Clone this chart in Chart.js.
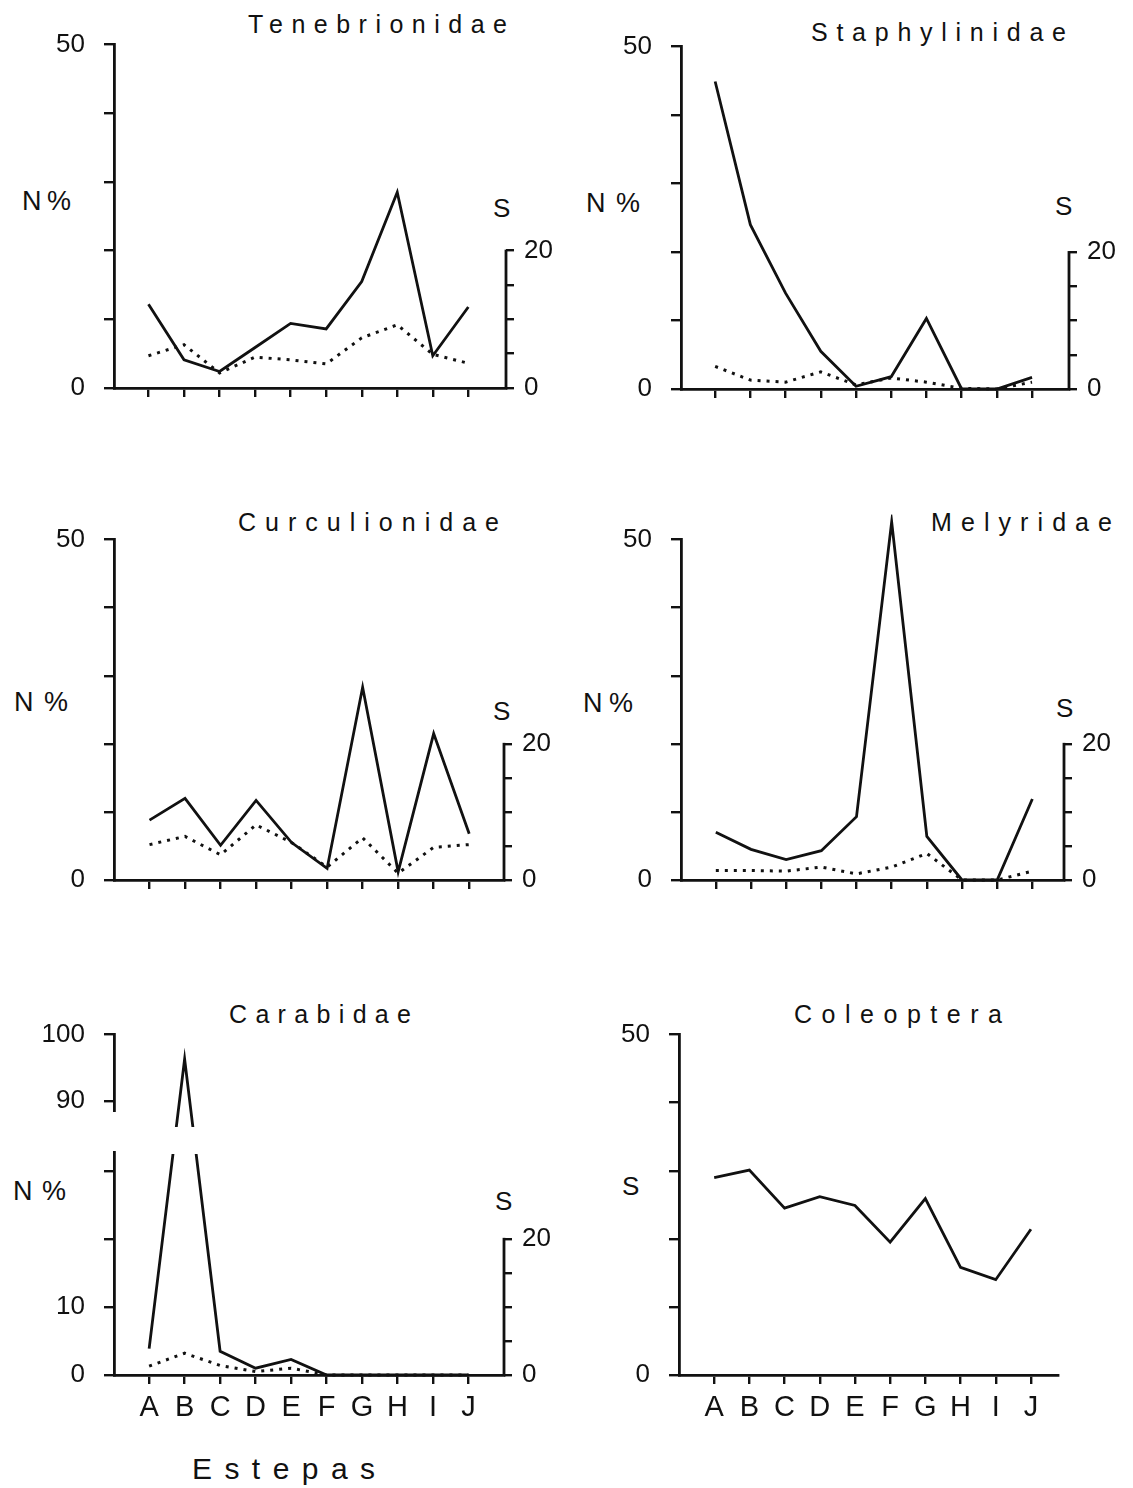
<!DOCTYPE html>
<html lang="es">
<head>
<meta charset="utf-8">
<title>Coleoptera por estepa</title>
<script src="https://cdn.jsdelivr.net/npm/chart.js@4.4.1/dist/chart.umd.min.js"></script>
<style>
  html, body { margin: 0; padding: 0; background: #fff; }
  #page { position: relative; width: 1133px; height: 1488px; overflow: hidden;
          font-family: "Liberation Sans", Arial, sans-serif; color: #111; }
  #page canvas { position: absolute; }
  .lbl { position: absolute; line-height: 1; white-space: nowrap; }
  .title { font-size: 25px; }
  .np { font-size: 27px; }
  .s { font-size: 26px; }
  .xt { font-size: 30px; }
</style>
</head>
<body>
<div id="page">
  <div class="lbl title" data-w="259" style="left:248px;top:12px">Tenebrionidae</div>
  <div class="lbl title" data-w="255" style="left:811px;top:20px">Staphylinidae</div>
  <div class="lbl title" data-w="261" style="left:238px;top:510px">Curculionidae</div>
  <div class="lbl title" data-w="181" style="left:931px;top:510px">Melyridae</div>
  <div class="lbl title" data-w="182" style="left:229px;top:1002px">Carabidae</div>
  <div class="lbl title" data-w="208" style="left:794px;top:1002px">Coleoptera</div>

  <div class="lbl np" data-w="49" style="left:22px;top:188px">N %</div>
  <div class="lbl np" data-w="54" style="left:586px;top:190px">N %</div>
  <div class="lbl np" data-w="54" style="left:14px;top:689px">N %</div>
  <div class="lbl np" data-w="50" style="left:583px;top:690px">N %</div>
  <div class="lbl np" data-w="53" style="left:13px;top:1178px">N %</div>

  <div class="lbl s" style="left:493px;top:195px">S</div>
  <div class="lbl s" style="left:1055px;top:193px">S</div>
  <div class="lbl s" style="left:493px;top:698px">S</div>
  <div class="lbl s" style="left:1056px;top:695px">S</div>
  <div class="lbl s" style="left:495px;top:1188px">S</div>
  <div class="lbl s" style="left:622px;top:1173px">S</div>

  <div class="lbl xt" data-w="183" style="left:192px;top:1454px">Estepas</div>
</div>

<script>
const ink = '#111';

const stations = ['A', 'B', 'C', 'D', 'E', 'F', 'G', 'H', 'I', 'J'];

// y ticks (N % on the left, S on the right)
const nTicks = [0, 10, 20, 30, 40, 50];
const nLabelled = [0, 50];
const sTicks = [0, 5, 10, 15, 20];
const sLabelled = [0, 20];
const caraTicks = [0, 10, 20, 30, 90, 100];
const caraLabelled = [0, 10, 90, 100];

// N % (solid) and S (dotted) per estepa
const tenebN = [12.2, 4.1, 2.4, 5.9, 9.4, 8.6, 15.5, 28.5, 4.7, 11.8];
const tenebS = [4.7, 6.3, 2.2, 4.5, 4.1, 3.5, 7.3, 9.2, 4.9, 3.6];

const staphN = [44.9, 24.0, 14.0, 5.5, 0.4, 1.8, 10.3, 0, 0, 1.7];
const staphS = [3.3, 1.3, 1.0, 2.5, 0.6, 1.6, 1.0, 0.1, 0, 1.0];

const curcN = [8.8, 12.0, 5.1, 11.7, 5.5, 1.7, 28.3, 1.2, 21.5, 6.8];
const curcS = [5.2, 6.4, 3.7, 8.1, 5.5, 1.9, 6.2, 1.0, 4.8, 5.2];

const melyN = [7.0, 4.5, 3.0, 4.3, 9.3, 52.6, 6.4, 0, 0, 11.9];
const melyS = [1.4, 1.4, 1.3, 1.9, 0.9, 1.9, 3.9, 0, 0, 1.3];

const caraN = [3.9, 96.3, 3.5, 1.0, 2.3, 0, 0, 0, 0, 0];
const caraS = [1.3, 3.2, 1.4, 0.5, 1.0, 0, 0, 0, 0, 0];

const coleoS = [29.0, 30.1, 24.5, 26.2, 24.9, 19.5, 25.9, 15.8, 14.0, 21.4];

Chart.defaults.font.family = '"Liberation Sans", Arial, sans-serif';
Chart.defaults.color = ink;

// linear scale with a cut between brk.low and brk.high (Carabidae)
class BrokenScale extends Chart.LinearScale {
  getPixelForValue(v) {
    const b = this.options.brk;
    let f;
    if (v <= b.low) f = v / b.low * b.lowAt;
    else if (v < b.high) f = b.lowAt + (v - b.low) / (b.high - b.low) * (b.highAt - b.lowAt);
    else f = b.highAt + (v - b.high) / (this.max - b.high) * (1 - b.highAt);
    return this.bottom - f * (this.bottom - this.top);
  }
  getValueForPixel(px) {
    const b = this.options.brk;
    const f = (this.bottom - px) / (this.bottom - this.top);
    if (f <= b.lowAt) return f / b.lowAt * b.low;
    if (f < b.highAt) return b.low + (f - b.lowAt) / (b.highAt - b.lowAt) * (b.high - b.low);
    return b.high + (f - b.highAt) / (1 - b.highAt) * (this.max - b.high);
  }
}
BrokenScale.id = 'broken';
BrokenScale.defaults = Chart.LinearScale.defaults;
Chart.register(BrokenScale);

const extras = {
  id: 'extras',
  afterDatasetsDraw(chart) {
    const y = chart.scales.y, a = chart.chartArea, b = y.options.brk;
    if (!b) return;
    const hi = y.getPixelForValue(b.high), lo = y.getPixelForValue(b.low);
    chart.ctx.clearRect(a.left + 2, hi + 15, a.right - a.left - 4, lo - hi - 12);
    chart.ctx.clearRect(a.left - 14, hi, 16, lo - hi);
  },
  afterDraw(chart) {
    const s = chart.scales.yS;
    if (!s) return;
    const ctx = chart.ctx, x = chart.chartArea.right;
    ctx.save();
    ctx.strokeStyle = ink;
    ctx.lineWidth = 2.8;
    ctx.beginPath();
    ctx.moveTo(x, s.getPixelForValue(0) + 1);
    ctx.lineTo(x, s.getPixelForValue(sTicks[sTicks.length - 1]) - 1);
    ctx.stroke();
    ctx.restore();
  }
};

const page = document.getElementById('page');

function drawPanel(p) {
  const yMax = p.yMax || 50;
  const yTicks = p.yTicks || nTicks;
  const yLabelled = p.yLabelled || nLabelled;

  const cv = document.createElement('canvas');
  cv.width = p.axR - p.axL + 160;
  cv.height = p.bot - p.top + 75;
  cv.style.left = (p.axL - 95) + 'px';
  cv.style.top = (p.top - 25) + 'px';
  page.appendChild(cv);

  const clip = { left: 5, top: 25, right: 5, bottom: 5 };
  const datasets = [{
    data: p.n.map((v, i) => ({ x: i, y: v })),
    borderColor: ink, borderWidth: 2.8, yAxisID: 'y', clip
  }];
  if (p.s) {
    datasets.push({
      data: p.s.map((v, i) => ({ x: i, y: v })),
      borderColor: ink, borderWidth: 3, borderDash: [3, 6], yAxisID: 'yS', clip
    });
  }

  const scales = {
    x: {
      type: 'linear', min: p.xMin, max: p.xMax, bounds: 'data',
      afterBuildTicks: s => { s.ticks = stations.map((_, i) => ({ value: i })); },
      afterFit: s => { s.height = 50; },
      ticks: { display: !!p.letters, autoSkip: false, maxRotation: 0, padding: 7,
               font: { size: 29 }, callback: v => stations[v] },
      grid: { drawOnChartArea: false, tickLength: 9, lineWidth: 2.4, color: ink },
      border: { width: 2.8, color: ink }
    },
    y: {
      type: p.brk ? 'broken' : 'linear', min: 0, max: yMax, bounds: 'data', brk: p.brk,
      afterBuildTicks: s => { s.ticks = yTicks.map(v => ({ value: v })); },
      afterFit: s => { s.width = 95; },
      ticks: { autoSkip: false, padding: 19, font: { size: 26 },
               callback: v => yLabelled.includes(v) ? String(v) : '' },
      grid: { drawOnChartArea: false, tickLength: 10, lineWidth: 2.4, color: ink },
      border: { width: 2.8, color: ink }
    }
  };
  if (p.s) {
    scales.yS = {
      type: 'linear', position: 'right', min: 0, max: 50, bounds: 'data',
      afterBuildTicks: s => { s.ticks = sTicks.map(v => ({ value: v })); },
      afterFit: s => { s.width = 55; },
      ticks: { autoSkip: false, padding: 10, font: { size: 26 },
               callback: v => sLabelled.includes(v) ? String(v) : '' },
      grid: { drawOnChartArea: false, tickLength: 8, lineWidth: 2.4, color: ink },
      border: { display: false }
    };
  }

  new Chart(cv, {
    type: 'line',
    data: { datasets },
    options: {
      responsive: false,
      animation: false,
      devicePixelRatio: 1,
      events: [],
      layout: { padding: { left: 0, top: 25, right: p.s ? 10 : 65, bottom: 0 } },
      elements: { point: { radius: 0 }, line: { tension: 0, fill: false, borderCapStyle: 'butt' } },
      plugins: { legend: { display: false }, tooltip: { enabled: false } },
      scales
    },
    plugins: [extras]
  });
}

[
  { n: tenebN, s: tenebS, axL: 114, axR: 506, top: 35, bot: 388, xMin: -0.97, xMax: 10.06 },
  { n: staphN, s: staphS, axL: 681, axR: 1069, top: 37, bot: 389, xMin: -0.97, xMax: 10.05 },
  { n: curcN, s: curcS, axL: 114, axR: 504, top: 530, bot: 880, xMin: -1, xMax: 9.98 },
  { n: melyN, s: melyS, axL: 681, axR: 1064, top: 530, bot: 880, xMin: -0.99, xMax: 9.9 },
  { n: caraN, s: caraS, axL: 114, axR: 504, top: 1025, bot: 1375, xMin: -0.99, xMax: 10,
    letters: true, yMax: 100, yTicks: caraTicks, yLabelled: caraLabelled,
    brk: { low: 33, high: 88.24, lowAt: 230 / 350, highAt: 270 / 350 } },
  { n: coleoS, s: null, axL: 679, axR: 1058, top: 1025, bot: 1375, xMin: -1, xMax: 9.77, letters: true }
].forEach(drawPanel);

// spread the hand-lettered labels to the widths of the original
document.querySelectorAll('.lbl[data-w]').forEach(el => {
  const n = el.textContent.length;
  const extra = (+el.dataset.w - el.getBoundingClientRect().width) / (n - 1);
  el.style.letterSpacing = extra + 'px';
});
</script>
</body>
</html>
